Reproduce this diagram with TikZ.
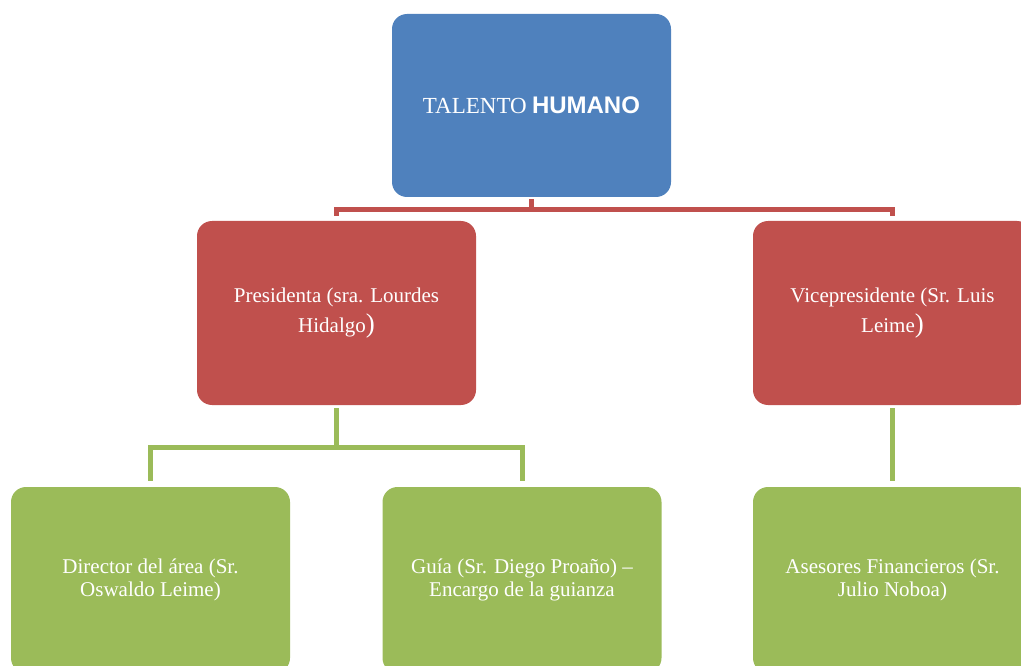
\documentclass[tikz,border=0pt]{standalone}
\usepackage{fontspec}
\setmainfont{Liberation Serif}
\newfontfamily\hsans{Liberation Sans}
\definecolor{cblue}{HTML}{4F81BD}
\definecolor{cred}{HTML}{C0504D}
\definecolor{cgreen}{HTML}{9BBB59}
\tikzset{
  box/.style={rounded corners=15pt, minimum width=279pt, text=white, align=center,
    font=\fontsize{21}{22.5}\selectfont, inner sep=0pt},
  topbox/.style={box, fill=cblue, minimum height=183pt},
  redbox/.style={box, fill=cred, minimum height=184pt},
  greenbox/.style={box, fill=cgreen, minimum height=186pt},
  redline/.style={draw=cred, line width=5pt},
  greenline/.style={draw=cgreen, line width=5pt},
}
\newcommand{\bigparen}{{\fontsize{27}{22}\selectfont)}}
\begin{document}
\begin{tikzpicture}[x=1pt,y=-1pt]
\useasboundingbox (0,0) rectangle (1021,666);
\node[topbox] (top) at (531.5,105.5) {{\fontsize{23}{24}\selectfont TALENTO} {\hsans\bfseries\fontsize{24}{24}\selectfont HUMANO}};
\node[redbox] (pres) at (336.5,313) {Presidenta (sra. Lourdes\\[5pt] Hidalgo\bigparen};
\node[redbox] (vice) at (892.5,313) {Vicepresidente (Sr. Luis\\[5pt] Leime\bigparen};
\node[greenbox] (dir) at (150.5,580) {Director del área (Sr.\\ Oswaldo Leime)};
\node[greenbox] (guia) at (522,580) {Guía (Sr. Diego Proaño) –\\ Encargo de la guianza};
\node[greenbox] (ases) at (892.5,580) {Asesores Financieros (Sr.\\ Julio Noboa)};
\coordinate (rbar) at (531.5,210);
\coordinate (gbar) at (336.5,447);
\draw[redline, shorten <=2pt] (top.south) -- (rbar);
\draw[redline, shorten <=5pt, shorten >=5pt] (pres.north) |- (rbar) -| (vice.north);
\draw[greenline, shorten <=3pt] (pres.south) -- (gbar);
\draw[greenline, shorten <=6pt, shorten >=6pt] (dir.north) |- (gbar) -| (guia.north);
\draw[greenline, shorten <=3pt, shorten >=6pt] (vice.south) -- (ases.north);
\end{tikzpicture}
\end{document}
